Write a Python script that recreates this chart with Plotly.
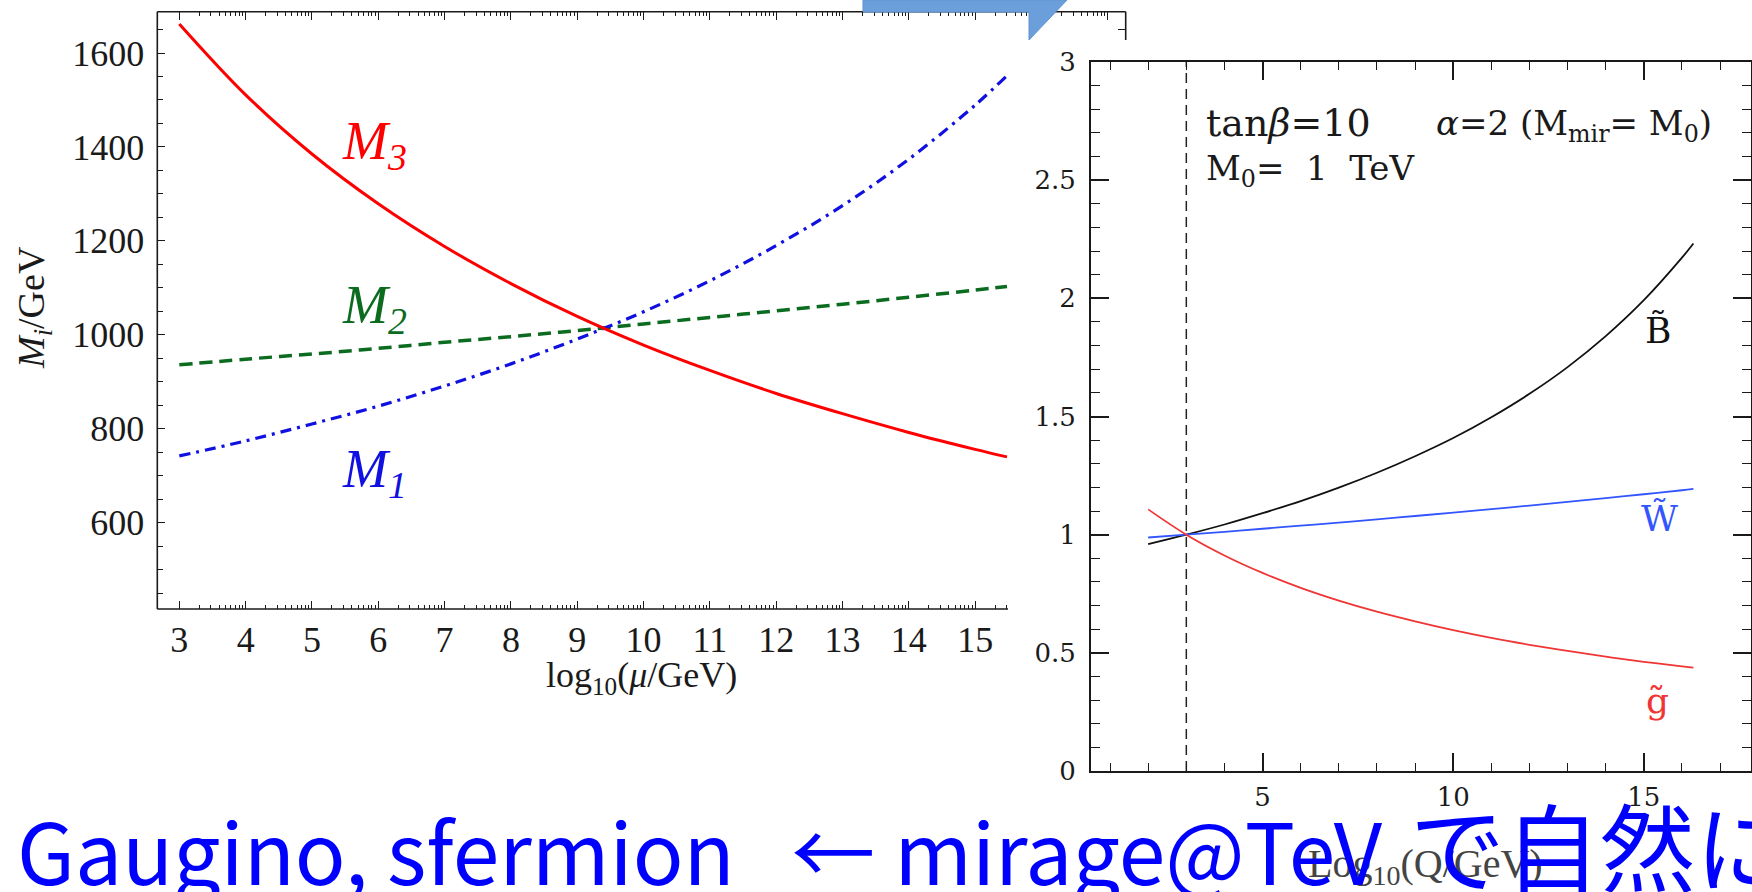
import plotly.graph_objects as go

W, H = 1752, 892


def px(x):
    return x / W


def py(y):
    return 1 - y / H


# ---------------- data: left panel (gaugino masses vs log10 mu) ----------------
mu_log = [3, 4, 5, 6, 7, 8, 9, 10, 11, 12, 13, 14, 15, 15.48]
M1 = [742, 774, 810, 848, 891, 938, 991, 1049, 1115, 1190, 1275, 1374, 1489, 1552]
M2 = [936, 948, 959, 971, 984, 996, 1009, 1023, 1037, 1051, 1065, 1080, 1095, 1103]
M3 = [1662, 1511, 1385, 1279, 1188, 1109, 1039, 978, 924, 875, 832, 792, 756, 740]

left_xticks = [3, 4, 5, 6, 7, 8, 9, 10, 11, 12, 13, 14, 15]
left_xticks_top = [3, 4, 5, 6, 7, 8, 9, 10, 11, 12, 13, 14, 15, 16, 17]
left_yticks = [600, 800, 1000, 1200, 1400, 1600]

# ---------------- data: right panel (ratios vs log10 Q) ----------------
logQ = [2, 3, 4, 5, 6, 7, 8, 9, 10, 11, 12, 13, 14, 15, 16, 16.3]
Bino = [0.960, 1.000, 1.043, 1.091, 1.142, 1.199, 1.262, 1.332, 1.409, 1.497, 1.596, 1.709, 1.840, 1.992, 2.172, 2.232]
Wino = [0.988, 1.000, 1.012, 1.025, 1.038, 1.051, 1.065, 1.079, 1.093, 1.108, 1.123, 1.139, 1.155, 1.171, 1.188, 1.194]
Gluino = [1.107, 1.000, 0.912, 0.838, 0.775, 0.721, 0.674, 0.633, 0.596, 0.563, 0.534, 0.508, 0.484, 0.462, 0.443, 0.437]
mirage_scale = 3
right_xticks = [5, 10, 15]
right_xminor = list(range(1, 18))

# log-style minor ticks (n + log10(k))
LOG_OFFS = [0.30103, 0.47712, 0.60206, 0.69897, 0.77815, 0.84510, 0.90309, 0.95424]
minor_bottom = [n + o for n in range(3, 16) for o in LOG_OFFS if n + o <= 15.48]
minor_top = [n + o for n in range(3, 18) for o in LOG_OFFS if n + o <= 17.27]

SERIF = "Liberation Serif"
HSERIF = "DejaVu Serif"
INK = "#1a1a1a"

fig = go.Figure()

# left panel curves
fig.add_trace(go.Scatter(x=mu_log, y=M2, mode="lines", xaxis="x", yaxis="y",
                         line=dict(color="#0b6b1f", width=3.5, dash="13px,7px", shape="spline"),
                         hoverinfo="skip"))
fig.add_trace(go.Scatter(x=mu_log, y=M1, mode="lines", xaxis="x", yaxis="y",
                         line=dict(color="#1010e0", width=3.2, dash="11px,6px,3px,6px", shape="spline"),
                         hoverinfo="skip"))
fig.add_trace(go.Scatter(x=mu_log, y=M3, mode="lines", xaxis="x", yaxis="y",
                         line=dict(color="#ff0000", width=3, shape="spline"),
                         hoverinfo="skip"))
# helper (empty) trace so the top tick axis of the left panel exists
fig.add_trace(go.Scatter(x=[], y=[], xaxis="x3", yaxis="y", hoverinfo="skip"))

# right panel curves
fig.add_trace(go.Scatter(x=[mirage_scale, mirage_scale], y=[0, 3], mode="lines", xaxis="x2", yaxis="y2",
                         line=dict(color="#222222", width=1.5, dash="10px,6px"), hoverinfo="skip"))
fig.add_trace(go.Scatter(x=logQ, y=Bino, mode="lines", xaxis="x2", yaxis="y2",
                         line=dict(color="#111111", width=1.8, shape="spline"), hoverinfo="skip"))
fig.add_trace(go.Scatter(x=logQ, y=Wino, mode="lines", xaxis="x2", yaxis="y2",
                         line=dict(color="#3355ff", width=1.8, shape="spline"), hoverinfo="skip"))
fig.add_trace(go.Scatter(x=logQ, y=Gluino, mode="lines", xaxis="x2", yaxis="y2",
                         line=dict(color="#f03535", width=1.8, shape="spline"), hoverinfo="skip"))

tickfont_left = dict(family=SERIF, size=36, color=INK)
tickfont_right = dict(family=HSERIF, size=26, color=INK)

fig.update_layout(
    width=W, height=H, autosize=False,
    margin=dict(l=0, r=0, t=0, b=0, pad=0, autoexpand=False),
    paper_bgcolor="white", plot_bgcolor="rgba(0,0,0,0)",
    showlegend=False,
    xaxis=dict(domain=[px(157.3), px(1125.7)], range=[2.668, 17.27], anchor="y", automargin=False,
               showline=False, showgrid=False, zeroline=False,
               tickmode="array", tickvals=left_xticks, ticks="inside", ticklen=8,
               tickwidth=1.3, tickcolor=INK, tickfont=tickfont_left, ticklabelstandoff=6,
               minor=dict(tickmode="array", tickvals=minor_bottom, ticks="inside",
                          ticklen=4, tickwidth=1, tickcolor=INK)),
    xaxis3=dict(overlaying="x", side="top", anchor="y", range=[2.668, 17.27], automargin=False,
                showline=False, showgrid=False, zeroline=False, showticklabels=False,
                tickmode="array", tickvals=left_xticks_top, ticks="inside", ticklen=8,
                tickwidth=1.3, tickcolor=INK,
                minor=dict(tickmode="array", tickvals=minor_top, ticks="inside",
                           ticklen=4, tickwidth=1, tickcolor=INK)),
    yaxis=dict(domain=[py(609), py(11.7)], range=[416, 1688], anchor="x", automargin=False,
               showline=False, showgrid=False, zeroline=False,
               tickmode="array", tickvals=left_yticks, ticks="inside", ticklen=8,
               tickwidth=1.3, tickcolor=INK, tickfont=tickfont_left, ticklabelstandoff=12,
               minor=dict(dtick=50, tick0=0, ticks="inside", ticklen=6,
                          tickwidth=1, tickcolor=INK)),
    xaxis2=dict(domain=[px(1091), px(1750.6)], range=[0.5, 17.8], anchor="y2", automargin=False,
                showline=True, mirror="ticks", linecolor=INK, linewidth=2,
                showgrid=False, zeroline=False,
                tickmode="array", tickvals=right_xticks, ticks="inside", ticklen=18,
                tickwidth=1.5, tickcolor=INK, tickfont=tickfont_right, ticklabelstandoff=2,
                minor=dict(tickmode="array", tickvals=right_xminor, ticks="inside",
                           ticklen=8, tickwidth=1.3, tickcolor=INK)),
    yaxis2=dict(domain=[py(771), py(62)], range=[0, 3], anchor="x2", automargin=False,
                showline=True, mirror="ticks", linecolor=INK, linewidth=2,
                showgrid=False, zeroline=False,
                tick0=0, dtick=0.5, ticks="inside", ticklen=18,
                tickwidth=1.5, tickcolor=INK, tickfont=tickfont_right, ticklabelstandoff=8,
                minor=dict(dtick=0.1, tick0=0, ticks="inside", ticklen=9,
                           tickwidth=1.3, tickcolor=INK)),
)

line_style = dict(color=INK, width=1.6)
shapes = [
    # left panel frame (partly hidden behind the right panel)
    dict(type="line", xref="paper", yref="paper", x0=px(157.3), x1=px(157.3), y0=py(609), y1=py(11.7), line=line_style),
    dict(type="line", xref="paper", yref="paper", x0=px(157.3), x1=px(1008), y0=py(609), y1=py(609), line=line_style),
    dict(type="line", xref="paper", yref="paper", x0=px(157.3), x1=px(1125.7), y0=py(11.7), y1=py(11.7), line=line_style),
    dict(type="line", xref="paper", yref="paper", x0=px(1125.7), x1=px(1125.7), y0=py(11.7), y1=py(40), line=line_style),
    dict(type="line", xref="paper", yref="paper", x0=px(1118), x1=px(1125.7), y0=py(29.5), y1=py(29.5), line=dict(color=INK, width=1)),
    # blue slide arrow
    dict(type="path", xref="paper", yref="paper", layer="above",
         path=(f"M {px(863)},{py(0)} L {px(1067)},{py(0)} L {px(1029)},{py(40)} "
               f"L {px(1029)},{py(12)} L {px(863)},{py(12)} Z"),
         fillcolor="#6a9fdb", line=dict(color="#5f93cf", width=1)),
]
fig.update_layout(shapes=shapes)

annotations = [
    # left panel labels
    dict(text="<i>M<sub>3</sub></i>", x=px(374), y=py(145), font=dict(family=SERIF, size=54, color="#ff0000")),
    dict(text="<i>M<sub>2</sub></i>", x=px(374), y=py(308), font=dict(family=SERIF, size=54, color="#0b6b1f")),
    dict(text="<i>M<sub>1</sub></i>", x=px(374), y=py(472), font=dict(family=SERIF, size=54, color="#1010e0")),
    dict(text="log<sub>10</sub>(<i>μ</i>/GeV)", x=px(641), y=py(677), font=dict(family=SERIF, size=36, color=INK)),
    dict(text="<i>M<sub>i</sub></i>/GeV", x=px(34), y=py(308), textangle=-90, font=dict(family=SERIF, size=38, color=INK)),
    # right panel labels
    dict(text="tan<i>β</i>=10", x=px(1204), y=py(123), xanchor="left", font=dict(family=HSERIF, size=38, color=INK)),
    dict(text="<i>α</i>=2 (M<sub>mir</sub>= M<sub>0</sub>)", x=px(1434), y=py(126), xanchor="left", font=dict(family=HSERIF, size=34, color=INK)),
    dict(text="M<sub>0</sub>=  1  TeV", x=px(1204), y=py(170), xanchor="left", font=dict(family=HSERIF, size=34, color=INK)),
    dict(text="B\u0303", x=px(1658), y=py(330), font=dict(family=HSERIF, size=36, color="#111111")),
    dict(text="W\u0303", x=px(1659), y=py(518), font=dict(family=HSERIF, size=36, color="#3355ff")),
    dict(text="g\u0303", x=px(1657), y=py(700), font=dict(family=HSERIF, size=36, color="#f03535")),
    dict(text="Log<sub>10</sub>(Q/GeV)", x=px(1425), y=py(866), font=dict(family=SERIF, size=40, color="#444444")),
    # slide caption (latin part, then the Japanese part which is set larger)
    dict(text="Gaugino, sfermion\u00a0\u00a0 ← mirage@TeV", x=px(15), y=py(848), xanchor="left",
         font=dict(family="Noto Sans CJK JP", size=84, color="#0000ff")),
    dict(text="で自然に", x=px(1408), y=py(843), xanchor="left",
         font=dict(family="Noto Sans CJK JP", size=95, color="#0000ff")),
]
for a in annotations:
    a.setdefault("xref", "paper")
    a.setdefault("yref", "paper")
    a.setdefault("showarrow", False)
    a.setdefault("xanchor", "center")
    a.setdefault("yanchor", "middle")
fig.update_layout(annotations=annotations)

fig.write_html("out.html", config={"displayModeBar": False})
